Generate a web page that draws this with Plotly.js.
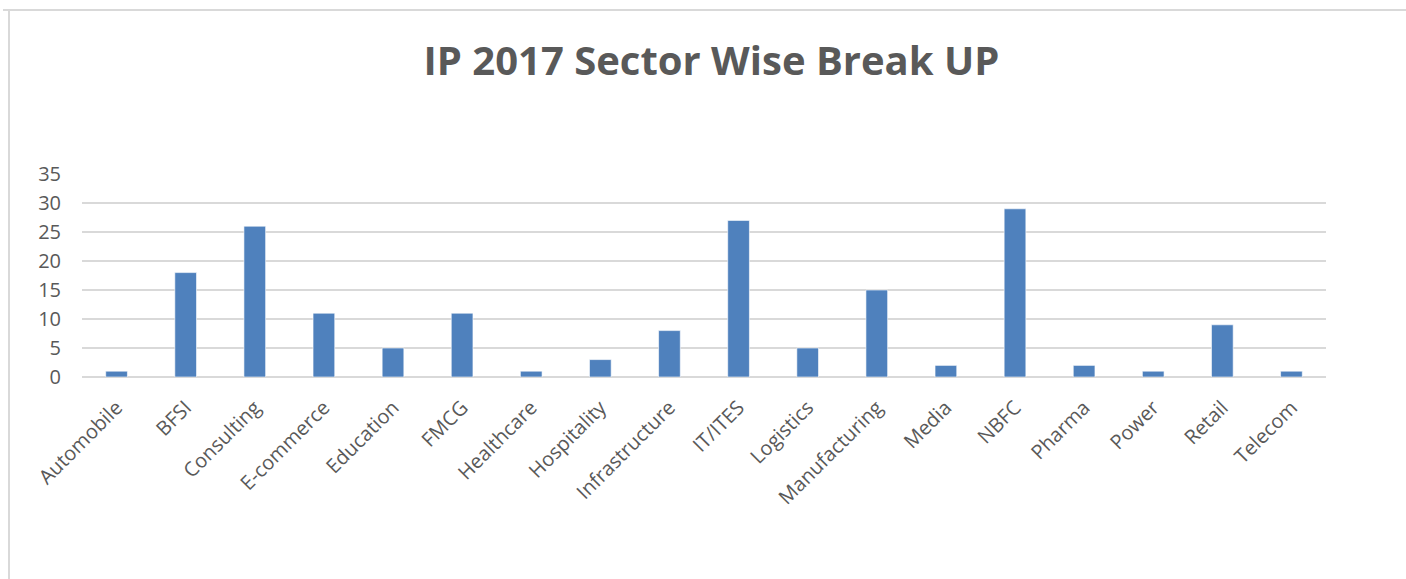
<!DOCTYPE html>
<html>
<head>
<meta charset="utf-8">
<script src="https://cdn.plot.ly/plotly-3.0.1.min.js"></script>
<style>
  html, body { margin: 0; padding: 0; background: #fff; }
  #wrap { position: relative; width: 1406px; height: 579px; overflow: hidden; }
  #chart { position: absolute; left: 0; top: 0; width: 1406px; height: 579px; }
  #topline { position: absolute; left: 3px; top: 9px; width: 1403px; height: 2px; background: #d9d9d9; pointer-events: none; }
  #leftline { position: absolute; left: 8px; top: 10px; width: 2px; height: 569px; background: #d9d9d9; pointer-events: none; }
</style>
</head>
<body>
<div id="wrap">
  <div id="chart"></div>
  <div id="topline"></div>
  <div id="leftline"></div>
</div>
<script>
const categories = ["Automobile", "BFSI", "Consulting", "E-commerce", "Education", "FMCG",
  "Healthcare", "Hospitality", "Infrastructure", "IT/ITES", "Logistics", "Manufacturing",
  "Media", "NBFC", "Pharma", "Power", "Retail", "Telecom"];
const counts = [1, 18, 26, 11, 5, 11, 1, 3, 8, 27, 5, 15, 2, 29, 2, 1, 9, 1];
const yTicks = [0, 5, 10, 15, 20, 25, 30, 35];
const chartTitle = "IP 2017 Sector Wise Break UP";

const trace = {
  type: "bar",
  x: categories,
  y: counts,
  marker: { color: "#4F81BD", line: { color: "rgba(255,255,255,0.6)", width: 1 } },
  hoverinfo: "x+y"
};

const layout = {
  width: 1406,
  height: 579,
  paper_bgcolor: "#ffffff",
  plot_bgcolor: "#ffffff",
  margin: { l: 82, r: 80, t: 174, b: 202 },
  showlegend: false,
  bargap: 0.686,
  title: {
    text: "<b>" + chartTitle + "</b>",
    font: { family: "Open Sans, sans-serif", size: 40, color: "#595959" },
    x: 0.506, xanchor: "center", xref: "container",
    y: 0.895, yanchor: "middle", yref: "container"
  },
  xaxis: {
    type: "category",
    tickangle: -45,
    tickfont: { family: "Open Sans, sans-serif", size: 20, color: "#595959" },
    showgrid: false,
    showline: false,
    ticks: "",
    zeroline: false,
    ticklabelstandoff: 14
  },
  yaxis: {
    range: [0, 35],
    tickvals: yTicks,
    ticktext: yTicks.map(String),
    tickfont: { family: "Open Sans, sans-serif", size: 20, color: "#595959" },
    showgrid: true,
    gridcolor: "#d9d9d9",
    gridwidth: 2,
    zeroline: true,
    zerolinecolor: "#d9d9d9",
    zerolinewidth: 2,
    showline: false,
    ticks: "",
    ticklabelstandoff: 20
  }
};

Plotly.newPlot("chart", [trace], layout, { displayModeBar: false, staticPlot: true });
</script>
</body>
</html>
